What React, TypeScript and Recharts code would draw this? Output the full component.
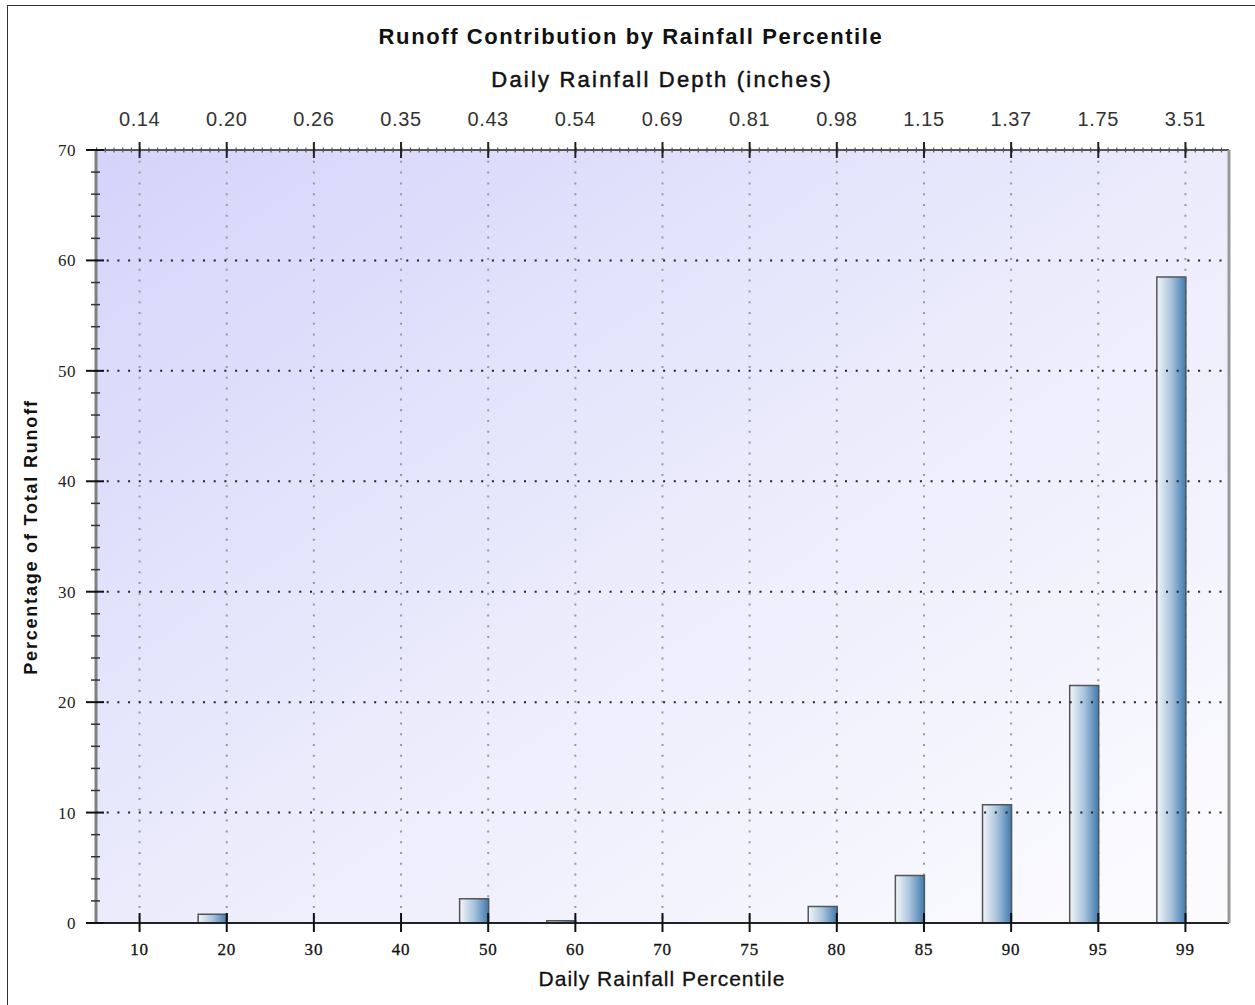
import React from 'react';
import { BarChart, Bar, XAxis, YAxis, CartesianGrid, ReferenceLine } from 'recharts';

const percentiles = ['10', '20', '30', '40', '50', '60', '70', '75', '80', '85', '90', '95', '99'];
const depths = ['0.14', '0.20', '0.26', '0.35', '0.43', '0.54', '0.69', '0.81', '0.98', '1.15', '1.37', '1.75', '3.51'];
const runoffPct: (number | null)[] = [null, 0.8, null, null, 2.2, 0.2, null, null, 1.5, 4.3, 10.7, 21.5, 58.5];
const yTicks = [0, 2, 4, 6, 8, 10, 12, 14, 16, 18, 20, 22, 24, 26, 28, 30, 32, 34, 36, 38, 40, 42, 44, 46, 48, 50, 52, 54, 56, 58, 60, 62, 64, 66, 68, 70];
const gridLevels = [10, 20, 30, 40, 50, 60];

const data = percentiles.map((p, i) => ({ pct: p, depth: depths[i], runoff: runoffPct[i] }));

const SERIF = '"Liberation Serif", "DejaVu Serif", serif';
const SANS = '"Liberation Sans", Arial, sans-serif';

const LeftTick = (props: any) => {
  const { x, y, payload } = props;
  const v = payload.value;
  const major = v % 10 === 0;
  return (
    <g>
      {major ? (
        <line x1={x - 10} x2={x + 8} y1={y} y2={y} stroke="#111" strokeWidth={2} />
      ) : (
        <line x1={x - 5} x2={x + 4} y1={y} y2={y} stroke="#333" strokeWidth={1.5} />
      )}
      {major && (
        <text x={x - 20} y={y + 6} textAnchor="end" fontFamily={SERIF} fontSize={17} fill="#222" letterSpacing={0.5}>
          {v}
        </text>
      )}
    </g>
  );
};

const RightTick = (props: any) => {
  const { x, y, payload } = props;
  const v = payload.value;
  const major = v % 10 === 0;
  return major ? (
    <line x1={x - 10} x2={x + 2} y1={y} y2={y} stroke="#111" strokeWidth={2} />
  ) : (
    <line x1={x - 5} x2={x + 1} y1={y} y2={y} stroke="#555" strokeWidth={1.2} />
  );
};

const BottomTick = (props: any) => {
  const { x, y, payload } = props;
  return (
    <g>
      <line x1={x} x2={x} y1={y - 10} y2={y + 9} stroke="#111" strokeWidth={2} />
      <text x={x} y={y + 32} textAnchor="middle" fontFamily={SERIF} fontSize={17} fill="#111" letterSpacing={0.8} stroke="#111" strokeWidth={0.3}>
        {payload.value}
      </text>
    </g>
  );
};

const TopTick = (props: any) => {
  const { x, y, payload } = props;
  return (
    <g>
      <line x1={x} x2={x} y1={y - 8} y2={y + 8} stroke="#222" strokeWidth={2} />
      <text x={x} y={y - 24} textAnchor="middle" fontFamily={SANS} fontSize={20} fill="#333" letterSpacing={0.6}>
        {payload.value}
      </text>
    </g>
  );
};

export default function App() {
  return (
    <div style={{ position: 'absolute', left: 0, top: 0, width: 1255, height: 1005, overflow: 'hidden', background: '#fff' }}>
      <svg width={0} height={0} style={{ position: 'absolute' }}>
        <defs>
          <linearGradient id="bgGrad" x1="0" y1="0" x2="1" y2="1">
            <stop offset="0%" stopColor="#d4d4fb" />
            <stop offset="50%" stopColor="#ebebfc" />
            <stop offset="100%" stopColor="#fcfcff" />
          </linearGradient>
          <linearGradient id="barGrad" x1="0" y1="0" x2="1" y2="0">
            <stop offset="0%" stopColor="#f2f6fa" />
            <stop offset="50%" stopColor="#a9c3dc" />
            <stop offset="100%" stopColor="#3f7aaf" />
          </linearGradient>
        </defs>
      </svg>
      <div style={{ position: 'absolute', left: 7, top: 5, width: 1300, height: 1100, border: '1px solid #333' }} />
      <div style={{ position: 'absolute', left: 0, top: 0 }}>
        <BarChart
          width={1255}
          height={1005}
          data={data}
          margin={{ top: 100, right: 16, bottom: 42, left: 36 }}
          barGap={0}
        >
          <CartesianGrid
            xAxisId="bottom"
            yAxisId="left"
            horizontal={false}
            vertical={true}
            stroke="#999"
            strokeWidth={2}
            strokeDasharray="2 8.8"
            fill="url(#bgGrad)"
            fillOpacity={1}
          />
          {gridLevels.map((g) => (
            <ReferenceLine
              key={g}
              y={g}
              xAxisId="bottom"
              yAxisId="left"
              stroke="#222"
              strokeWidth={2}
              strokeDasharray="2 8.7"
            />
          ))}
          <ReferenceLine y={70} xAxisId="bottom" yAxisId="left" stroke="#555" strokeWidth={5} strokeDasharray="1.2 7.52" />
          <XAxis
            xAxisId="bottom"
            dataKey="pct"
            orientation="bottom"
            height={40}
            interval={0}
            tickSize={0}
            tickMargin={0}
            tickLine={false}
            axisLine={{ stroke: '#222', strokeWidth: 2 }}
            tick={<BottomTick />}
          />
          <XAxis
            xAxisId="top"
            dataKey="depth"
            orientation="top"
            height={50}
            interval={0}
            tickSize={0}
            tickMargin={0}
            tickLine={false}
            axisLine={{ stroke: '#555', strokeWidth: 2 }}
            tick={<TopTick />}
          />
          <YAxis
            yAxisId="left"
            orientation="left"
            width={60}
            type="number"
            domain={[0, 70]}
            ticks={yTicks}
            interval={0}
            tickSize={0}
            tickMargin={0}
            tickLine={false}
            axisLine={{ stroke: '#808080', strokeWidth: 3 }}
            tick={<LeftTick />}
          />
          <YAxis
            yAxisId="right"
            orientation="right"
            width={10}
            type="number"
            domain={[0, 70]}
            ticks={yTicks}
            interval={0}
            tickSize={0}
            tickMargin={0}
            tickLine={false}
            axisLine={{ stroke: '#999', strokeWidth: 3 }}
            tick={<RightTick />}
          />
          <Bar
            dataKey="runoff"
            xAxisId="bottom"
            yAxisId="left"
            barSize={29}
            fill="url(#barGrad)"
            stroke="#555"
            strokeWidth={1.5}
            isAnimationActive={false}
          />
          <Bar
            dataKey="spacer"
            xAxisId="bottom"
            yAxisId="left"
            barSize={29}
            fill="none"
            isAnimationActive={false}
          />
        </BarChart>
      </div>
      <svg width={1255} height={1005} style={{ position: 'absolute', left: 0, top: 0, pointerEvents: 'none' }}>
        <text x={631} y={44} textAnchor="middle" fontFamily={SANS} fontWeight="bold" fontSize={22} letterSpacing={1.6} fill="#111">
          Runoff Contribution by Rainfall Percentile
        </text>
        <text x={662} y={87} textAnchor="middle" fontFamily={SANS} fontSize={22} letterSpacing={2.2} fill="#111" stroke="#111" strokeWidth={0.5}>
          Daily Rainfall Depth (inches)
        </text>
        <text x={662} y={986} textAnchor="middle" fontFamily={SANS} fontSize={21} letterSpacing={1} fill="#111" stroke="#111" strokeWidth={0.3}>
          Daily Rainfall Percentile
        </text>
        <text
          x={37}
          y={537}
          transform="rotate(-90 37 537)"
          textAnchor="middle"
          fontFamily={SANS}
          fontWeight="bold"
          fontSize={18}
          letterSpacing={1.8}
          fill="#111"
        >
          Percentage of Total Runoff
        </text>
      </svg>
    </div>
  );
}
